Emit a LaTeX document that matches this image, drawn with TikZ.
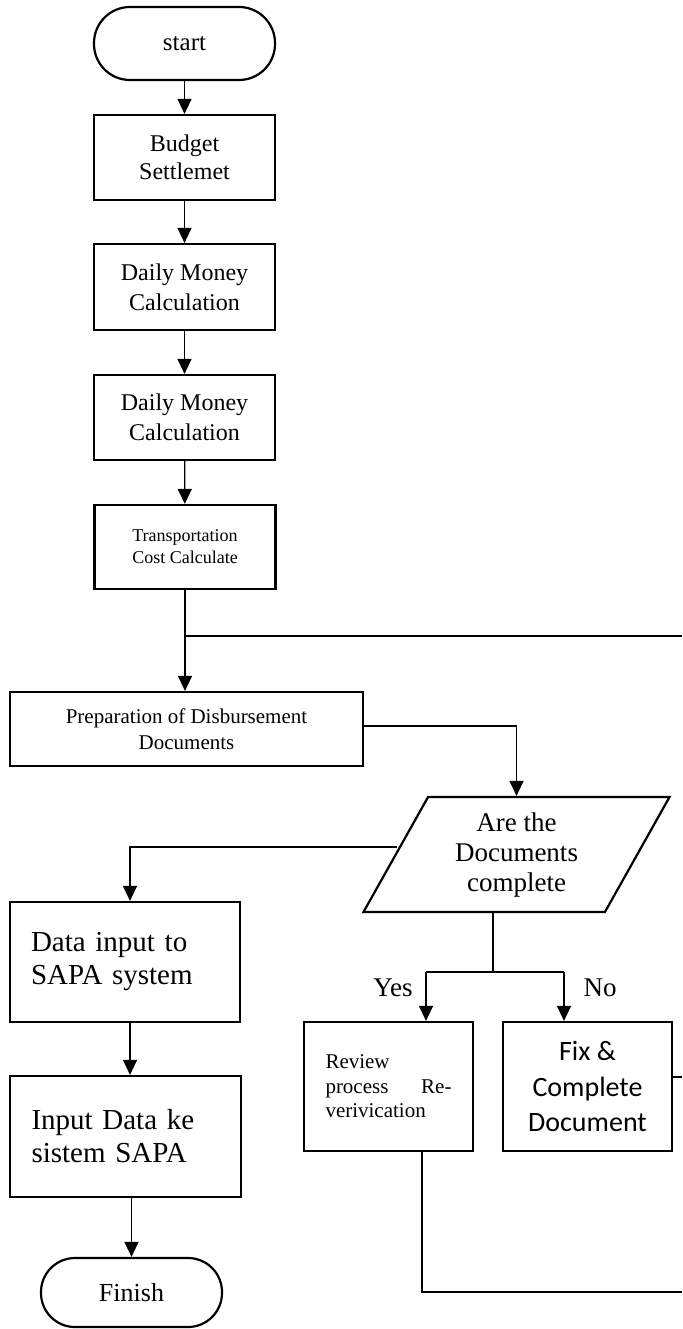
\documentclass[tikz,border=0pt]{standalone}
\usepackage{fontspec}
\setmainfont{Liberation Serif}
\newfontfamily\calibri{Carlito}
\usetikzlibrary{arrows.meta,shapes.geometric,calc}
\begin{document}
\begin{tikzpicture}[x=1pt,y=-1pt,
  box/.style={draw,line width=2.2pt,rectangle,inner sep=0pt,align=center,
    minimum width=181,minimum height=85,font=\fontsize{24}{28}\selectfont},
  term/.style={box,rounded corners=36},
  link/.style={line width=1.3pt},
  arr/.style={link,-{Triangle[length=15pt,width=14pt]}},
  lbl/.style={font=\fontsize{27}{30}\selectfont,inner sep=0pt}]
\useasboundingbox (0,0) rectangle (682,1329);

\node[term,minimum height=73,font=\fontsize{25}{28}\selectfont] (start) at (184.5,43.5) {start};
\node[box] (budget) at (184.5,157.5) {Budget\\Settlemet};
\node[box,minimum height=86,font=\fontsize{24}{30}\selectfont] (dm1) at (184.5,287) {Daily Money\\Calculation};
\node[box,font=\fontsize{24}{30}\selectfont] (dm2) at (184.5,417.5) {Daily Money\\Calculation};
\node[box,minimum height=84,font=\fontsize{18}{22}\selectfont] (trans) at (185,547) {Transportation\\Cost Calculate};
\node[box,minimum width=353,minimum height=74,font=\fontsize{21}{26}\selectfont] (prep) at (186.5,729) {Preparation of Disbursement\\Documents};
\node[draw,line width=2.2pt,trapezium,trapezium left angle=62,trapezium right angle=118,
  trapezium stretches=true,minimum width=307,minimum height=115,inner sep=0pt,
  align=center,font=\fontsize{27}{30}\selectfont] (para) at (516.5,854.5) {Are the\\Documents\\complete};
\node[box,minimum width=230,minimum height=120,text width=188,inner xsep=21,align=left,
  font=\fontsize{29}{33}\selectfont] (data) at (125,962) {Data input to\\SAPA system};
\node[box,minimum width=231,minimum height=121,text width=188,inner xsep=21,align=left,
  font=\fontsize{29}{33}\selectfont] (input) at (125.5,1136.5) {Input Data ke\\sistem SAPA};
\node[term,minimum width=181,minimum height=69,rounded corners=34,font=\fontsize{26}{28}\selectfont] (finish) at (131.5,1292.5) {Finish};
\node[box,minimum width=169,minimum height=129,text width=126,align=left,
  font=\fontsize{21}{24.5}\selectfont] (review) at (388.5,1086.5) {Review\\process\hfill Re-\\verivication};
\node[box,minimum width=169,minimum height=129,font=\calibri\fontsize{28}{35.5}\selectfont] (fix) at (587.5,1086.5) {Fix \&\\Complete\\Document};

\node[lbl] (yes) at (393,988) {Yes};
\node[lbl] (no) at (600,988) {No};

\coordinate (j) at (185,636);
\coordinate (jr) at (682,636);
\coordinate (pl) at (397,847);
\coordinate (pb) at (493,912);
\coordinate (yescol) at (426,972);
\coordinate (nocol) at (564,972);
\coordinate (rfix) at (682,1077);
\coordinate (rrev) at (682,1292);

\draw[arr] (start) -- (budget);
\draw[arr] (budget) -- (dm1);
\draw[arr] (dm1) -- (dm2);
\draw[arr] (dm2) -- (trans);
\draw[arr] (trans.south) -- (trans.south |- prep.north);
\draw[link] (j) -- (jr);
\draw[arr] ([yshift=3]prep.east) -| (para.center |- para.north);
\draw[arr] (pl) -| ([xshift=5]data.north);
\draw[arr] ([xshift=5]data.south) -- ([xshift=5]data.south |- input.north);
\draw[arr] ([xshift=6]input.south) -- ([xshift=6]input.south |- finish.north);
\draw[link] (pb) -- (pb |- yescol);
\draw[link] (yescol) -- (nocol);
\draw[arr] (yescol) -- (yescol |- review.north);
\draw[arr] (nocol) -- (nocol |- fix.north);
\draw[link] ([yshift=9.5]fix.east) -- (rfix);
\draw[link] ([xshift=33.5]review.south) |- (rrev);
\end{tikzpicture}
\end{document}
